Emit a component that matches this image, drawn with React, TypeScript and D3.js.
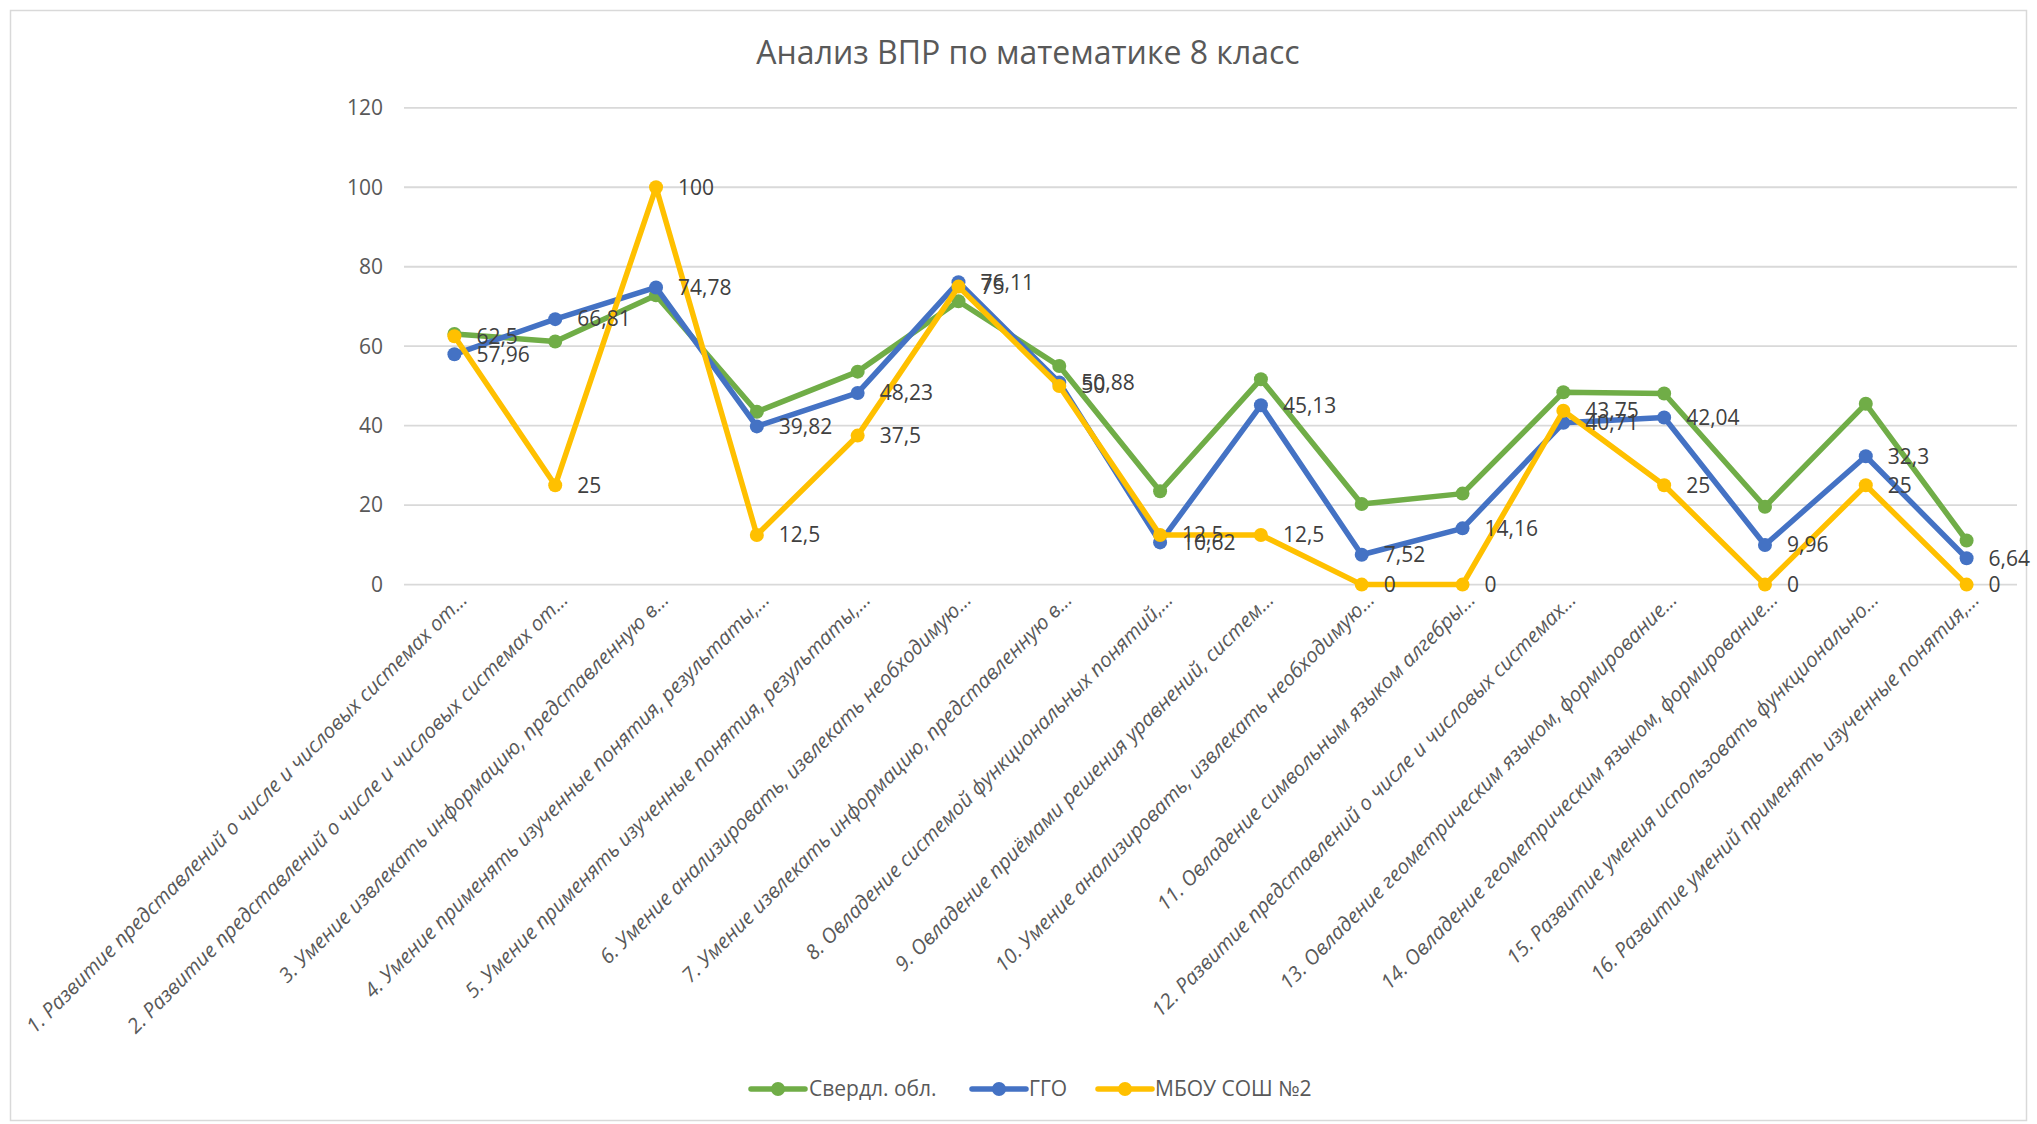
import React from "react";
import * as d3 from "d3";

const categories = [
  "1. Развитие представлений о числе и числовых системах от…",
  "2. Развитие представлений о числе и числовых системах от…",
  "3. Умение извлекать информацию, представленную в…",
  "4. Умение применять изученные понятия, результаты,…",
  "5. Умение применять изученные понятия, результаты,…",
  "6. Умение анализировать, извлекать необходимую…",
  "7. Умение извлекать информацию, представленную в…",
  "8. Овладение системой функциональных понятий,…",
  "9. Овладение приёмами решения уравнений, систем…",
  "10. Умение анализировать, извлекать необходимую…",
  "11. Овладение символьным языком алгебры…",
  "12. Развитие представлений о числе и числовых системах…",
  "13. Овладение геометрическим языком, формирование…",
  "14. Овладение геометрическим языком, формирование…",
  "15. Развитие умения использовать функционально…",
  "16. Развитие умений применять изученные понятия,…",
];

const sverdlValues = [63.1, 61.2, 72.8, 43.5, 53.6, 71.3, 55.0, 23.5, 51.7, 20.3, 22.9, 48.4, 48.1, 19.6, 45.5, 11.1];
const ggoValues = [57.96, 66.81, 74.78, 39.82, 48.23, 76.11, 50.88, 10.62, 45.13, 7.52, 14.16, 40.71, 42.04, 9.96, 32.3, 6.64];
const mbouValues = [62.5, 25, 100, 12.5, 37.5, 75, 50, 12.5, 12.5, 0, 0, 43.75, 25, 0, 25, 0];

const seriesNames = ["Свердл. обл.", "ГГО", "МБОУ СОШ №2"];
const yTicks = [0, 20, 40, 60, 80, 100, 120];
const title = "Анализ ВПР по математике 8 класс";

const W = 2037;
const H = 1124;
const FONT = "'Open Sans', 'Noto Sans', sans-serif";

const series = [
  { name: seriesNames[0], values: sverdlValues, color: "#70AD47", labels: false },
  { name: seriesNames[1], values: ggoValues, color: "#4472C4", labels: true },
  { name: seriesNames[2], values: mbouValues, color: "#FFC000", labels: true },
];

const fmt = (v: number) => String(v).replace(".", ",");

export default function App() {
  const x = d3
    .scaleBand<number>()
    .domain(categories.map((_, i) => i))
    .range([404, 2017]);
  const cx = (i: number) => (x(i) as number) + x.bandwidth() / 2;
  const y = d3.scaleLinear().domain([0, 120]).range([584.6, 107.8]);
  const line = d3
    .line<number>()
    .x((_, i) => cx(i))
    .y((d) => y(d));

  const legendItems = [
    { lx: 751, tx: 809 },
    { lx: 972, tx: 1029 },
    { lx: 1098, tx: 1155 },
  ];

  return (
    <div style={{ position: "absolute", left: 0, top: 0 }}>
      <svg width={W} height={H} style={{ display: "block", fontFamily: FONT }}>
        <rect x={0} y={0} width={W} height={H} fill="#fff" />
        <rect x={10.5} y={10.5} width={W - 21} height={H - 14} fill="#fff" stroke="#D9D9D9" strokeWidth={1.5} />
        <text x={1028} y={64} textAnchor="middle" fontSize={32} fill="#595959">
          {title}
        </text>
        {yTicks.map((t) => (
          <g key={t}>
            <line x1={404} x2={2017} y1={y(t)} y2={y(t)} stroke="#D9D9D9" strokeWidth={1.8} />
            <text x={383} y={y(t)} dy="0.35em" textAnchor="end" fontSize={21} fill="#595959">
              {t}
            </text>
          </g>
        ))}
        {categories.map((c, i) => (
          <text
            key={i}
            transform={`translate(${cx(i) + 14},${601}) rotate(-45)`}
            textAnchor="end"
            fontSize={20.5}
            fontStyle="italic"
            fill="#595959"
          >
            {c}
          </text>
        ))}
        {series.map((s) => (
          <g key={s.name}>
            <path d={line(s.values) || ""} fill="none" stroke={s.color} strokeWidth={5.5} strokeLinejoin="round" />
            {s.values.map((v, i) => (
              <circle key={i} cx={cx(i)} cy={y(v)} r={7} fill={s.color} />
            ))}
          </g>
        ))}
        {series
          .filter((s) => s.labels)
          .map((s) =>
            s.values.map((v, i) => (
              <text
                key={s.name + i}
                x={cx(i) + 22}
                y={y(v)}
                dy="0.35em"
                fontSize={21}
                fill="#404040"
              >
                {fmt(v)}
              </text>
            ))
          )}
        {series.map((s, k) => (
          <g key={"lg" + k}>
            <line
              x1={legendItems[k].lx}
              x2={legendItems[k].lx + 54}
              y1={1089}
              y2={1089}
              stroke={s.color}
              strokeWidth={5.5}
              strokeLinecap="round"
            />
            <circle cx={legendItems[k].lx + 27} cy={1089} r={7} fill={s.color} />
            <text x={legendItems[k].tx} y={1089} dy="0.35em" fontSize={21} fill="#595959">
              {s.name}
            </text>
          </g>
        ))}
      </svg>
    </div>
  );
}
